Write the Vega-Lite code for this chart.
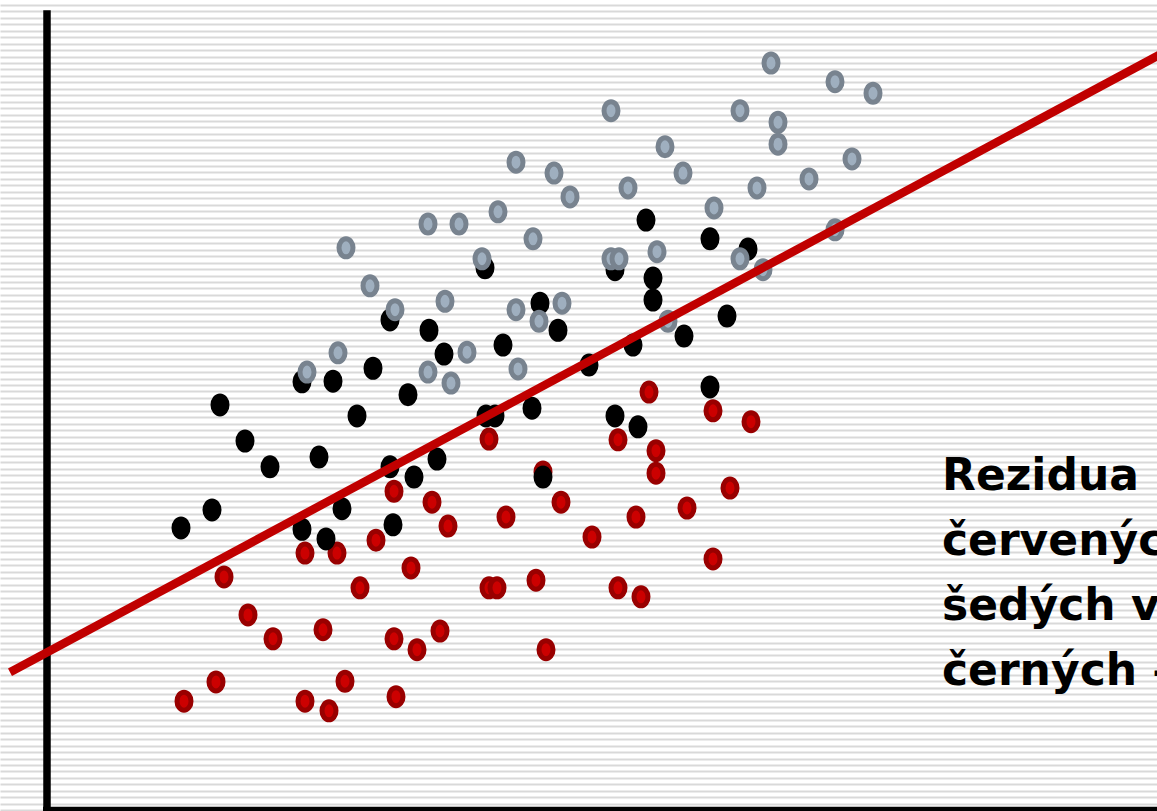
{
  "$schema": "https://vega.github.io/schema/vega-lite/v6.json",
  "width": 1157,
  "height": 811,
  "padding": 0,
  "autosize": {"type": "fit", "contains": "padding"},
  "background": "white",
  "config": {
    "view": {"stroke": null},
    "axisY": {"grid": true, "gridColor": "#d9d9d9", "gridWidth": 2, "tickCount": 125, "labels": false, "ticks": false, "domain": false, "titleOpacity": 0, "titlePadding": 0, "labelPadding": 0, "minExtent": 0, "maxExtent": 0}
  },
  "datasets": {
    "points": [
      {"x": 17.7, "y": 35.2, "g": "red"}, {"x": 20.1, "y": 29.3, "g": "red"}, {"x": 22.6, "y": 25.6, "g": "red"},
      {"x": 25.8, "y": 38.9, "g": "red"}, {"x": 29.0, "y": 38.9, "g": "red"}, {"x": 31.3, "y": 33.5, "g": "red"},
      {"x": 32.9, "y": 40.9, "g": "red"}, {"x": 34.7, "y": 48.5, "g": "red"}, {"x": 36.4, "y": 36.6, "g": "red"},
      {"x": 38.5, "y": 46.8, "g": "red"}, {"x": 40.1, "y": 43.1, "g": "red"}, {"x": 44.2, "y": 56.6, "g": "red"},
      {"x": 45.9, "y": 44.5, "g": "red"}, {"x": 44.2, "y": 33.5, "g": "red"}, {"x": 45.0, "y": 33.5, "g": "red"},
      {"x": 48.9, "y": 34.7, "g": "red"}, {"x": 49.6, "y": 51.5, "g": "red"}, {"x": 51.4, "y": 46.8, "g": "red"},
      {"x": 54.5, "y": 41.4, "g": "red"}, {"x": 57.1, "y": 56.5, "g": "red"}, {"x": 60.2, "y": 63.9, "g": "red"},
      {"x": 60.9, "y": 54.8, "g": "red"}, {"x": 60.9, "y": 51.3, "g": "red"}, {"x": 58.9, "y": 44.5, "g": "red"},
      {"x": 64.0, "y": 45.9, "g": "red"}, {"x": 66.6, "y": 61.0, "g": "red"}, {"x": 70.4, "y": 59.3, "g": "red"},
      {"x": 68.3, "y": 49.0, "g": "red"}, {"x": 66.6, "y": 38.0, "g": "red"}, {"x": 57.1, "y": 33.5, "g": "red"},
      {"x": 59.4, "y": 32.1, "g": "red"}, {"x": 27.6, "y": 27.0, "g": "red"}, {"x": 34.7, "y": 25.6, "g": "red"},
      {"x": 37.0, "y": 23.9, "g": "red"}, {"x": 39.3, "y": 26.8, "g": "red"}, {"x": 49.9, "y": 23.9, "g": "red"},
      {"x": 13.7, "y": 15.9, "g": "red"}, {"x": 16.9, "y": 18.9, "g": "red"}, {"x": 25.8, "y": 15.9, "g": "red"},
      {"x": 28.2, "y": 14.4, "g": "red"}, {"x": 29.8, "y": 19.0, "g": "red"}, {"x": 34.9, "y": 16.6, "g": "red"},
      {"x": 13.4, "y": 42.8, "g": "black"}, {"x": 16.5, "y": 45.6, "g": "black"}, {"x": 17.3, "y": 61.9, "g": "black"},
      {"x": 19.8, "y": 56.3, "g": "black"}, {"x": 22.3, "y": 52.3, "g": "black"}, {"x": 25.5, "y": 42.6, "g": "black"},
      {"x": 27.9, "y": 41.1, "g": "black"}, {"x": 25.5, "y": 65.5, "g": "black"}, {"x": 28.6, "y": 65.6, "g": "black"},
      {"x": 27.2, "y": 53.8, "g": "black"}, {"x": 29.5, "y": 45.8, "g": "black"}, {"x": 31.0, "y": 60.2, "g": "black"},
      {"x": 32.6, "y": 67.6, "g": "black"}, {"x": 34.3, "y": 75.1, "g": "black"}, {"x": 34.3, "y": 52.3, "g": "black"},
      {"x": 34.6, "y": 43.3, "g": "black"}, {"x": 36.1, "y": 63.5, "g": "black"}, {"x": 36.7, "y": 50.7, "g": "black"},
      {"x": 38.2, "y": 73.5, "g": "black"}, {"x": 39.0, "y": 53.5, "g": "black"}, {"x": 39.7, "y": 69.8, "g": "black"},
      {"x": 43.8, "y": 83.2, "g": "black"}, {"x": 45.6, "y": 71.2, "g": "black"}, {"x": 43.9, "y": 60.2, "g": "black"},
      {"x": 44.8, "y": 60.2, "g": "black"}, {"x": 48.5, "y": 61.4, "g": "black"}, {"x": 49.3, "y": 77.7, "g": "black"},
      {"x": 51.1, "y": 73.5, "g": "black"}, {"x": 49.6, "y": 50.7, "g": "black"}, {"x": 54.2, "y": 68.1, "g": "black"},
      {"x": 56.8, "y": 82.9, "g": "black"}, {"x": 56.8, "y": 60.2, "g": "black"}, {"x": 59.1, "y": 58.5, "g": "black"},
      {"x": 58.6, "y": 71.2, "g": "black"}, {"x": 59.9, "y": 90.6, "g": "black"}, {"x": 60.6, "y": 81.6, "g": "black"},
      {"x": 60.6, "y": 78.2, "g": "black"}, {"x": 63.7, "y": 72.6, "g": "black"}, {"x": 66.3, "y": 87.7, "g": "black"},
      {"x": 70.1, "y": 86.1, "g": "black"}, {"x": 68.0, "y": 75.7, "g": "black"}, {"x": 66.3, "y": 64.7, "g": "black"},
      {"x": 29.9, "y": 86.3, "g": "gray"}, {"x": 32.3, "y": 80.4, "g": "gray"}, {"x": 34.8, "y": 76.7, "g": "gray"},
      {"x": 29.1, "y": 70.0, "g": "gray"}, {"x": 26.0, "y": 67.0, "g": "gray"}, {"x": 38.1, "y": 90.0, "g": "gray"},
      {"x": 41.2, "y": 90.0, "g": "gray"}, {"x": 39.8, "y": 78.0, "g": "gray"}, {"x": 42.0, "y": 70.1, "g": "gray"},
      {"x": 38.1, "y": 67.0, "g": "gray"}, {"x": 40.4, "y": 65.3, "g": "gray"}, {"x": 45.1, "y": 91.9, "g": "gray"},
      {"x": 46.9, "y": 99.6, "g": "gray"}, {"x": 43.5, "y": 84.6, "g": "gray"}, {"x": 48.6, "y": 87.7, "g": "gray"},
      {"x": 46.9, "y": 76.7, "g": "gray"}, {"x": 47.1, "y": 67.5, "g": "gray"}, {"x": 49.2, "y": 74.9, "g": "gray"},
      {"x": 51.5, "y": 77.7, "g": "gray"}, {"x": 50.7, "y": 97.9, "g": "gray"}, {"x": 52.3, "y": 94.2, "g": "gray"},
      {"x": 56.4, "y": 107.6, "g": "gray"}, {"x": 58.1, "y": 95.6, "g": "gray"}, {"x": 56.4, "y": 84.6, "g": "gray"},
      {"x": 57.2, "y": 84.6, "g": "gray"}, {"x": 61.0, "y": 85.7, "g": "gray"}, {"x": 61.8, "y": 102.0, "g": "gray"},
      {"x": 63.6, "y": 97.9, "g": "gray"}, {"x": 62.1, "y": 74.9, "g": "gray"}, {"x": 66.7, "y": 92.5, "g": "gray"},
      {"x": 69.3, "y": 107.6, "g": "gray"}, {"x": 69.3, "y": 84.6, "g": "gray"}, {"x": 71.0, "y": 95.6, "g": "gray"},
      {"x": 73.1, "y": 105.8, "g": "gray"}, {"x": 73.1, "y": 102.4, "g": "gray"}, {"x": 72.4, "y": 115.0, "g": "gray"},
      {"x": 76.2, "y": 97.0, "g": "gray"}, {"x": 78.8, "y": 112.1, "g": "gray"}, {"x": 82.6, "y": 110.3, "g": "gray"},
      {"x": 80.5, "y": 100.1, "g": "gray"}, {"x": 78.8, "y": 89.1, "g": "gray"}, {"x": 71.6, "y": 82.9, "g": "gray"}
    ],
    "fit": [
      {"x": -3.7, "y": 20.4},
      {"x": 115.0, "y": 119.4}
    ],
    "one": [{"label": "Rezidua"}]
  },
  "layer": [
    {
      "data": {"name": "points"},
      "mark": {
        "type": "point",
        "filled": true,
        "shape": "M -0.778 0 A 0.778 1 0 1 0 0.778 0 A 0.778 1 0 1 0 -0.778 0 Z",
        "size": 324,
        "strokeWidth": 5,
        "opacity": 1
      },
      "encoding": {
        "x": {"field": "x", "type": "quantitative", "scale": {"domain": [-4.7, 111], "nice": false, "zero": false}, "axis": null},
        "y": {"field": "y", "type": "quantitative", "scale": {"domain": [-1.149, 124.78], "nice": false, "zero": false}, "title": null},
        "fill": {"field": "g", "type": "nominal", "scale": {"domain": ["red", "black", "gray"], "range": ["#cc0000", "#000000", "#9fafbf"]}, "legend": null},
        "stroke": {"field": "g", "type": "nominal", "scale": {"domain": ["red", "black", "gray"], "range": ["#990000", "#000000", "#78838f"]}, "legend": null}
      }
    },
    {
      "data": {"name": "one"},
      "mark": {"type": "rule", "color": "#000000", "strokeWidth": 7.5, "strokeCap": "butt", "clip": true},
      "encoding": {
        "x": {"datum": 0, "type": "quantitative", "axis": null},
        "y": {"datum": 123.2, "type": "quantitative", "title": null},
        "y2": {"datum": -1.5}
      }
    },
    {
      "data": {"name": "one"},
      "mark": {"type": "rule", "color": "#000000", "strokeWidth": 4.5, "strokeCap": "butt", "clip": true},
      "encoding": {
        "y": {"datum": -0.84, "type": "quantitative", "title": null},
        "x": {"datum": -0.4, "type": "quantitative", "axis": null},
        "x2": {"datum": 115}
      }
    },
    {
      "data": {"name": "fit"},
      "mark": {"type": "line", "color": "#c00000", "strokeWidth": 8.5, "strokeCap": "butt", "clip": true},
      "encoding": {
        "x": {"field": "x", "type": "quantitative", "axis": null},
        "y": {"field": "y", "type": "quantitative", "title": null}
      }
    },
    {
      "data": {"name": "one"},
      "mark": {
        "type": "text",
        "align": "left",
        "baseline": "alphabetic",
        "font": "DejaVu Sans",
        "fontWeight": "bold",
        "fontSize": 44,
        "lineHeight": 65,
        "color": "#000000",
        "clip": true
      },
      "encoding": {
        "x": {"datum": 89.5, "type": "quantitative", "axis": null},
        "y": {"datum": 48.7, "type": "quantitative", "title": null},
        "text": {"value": ["Rezidua", "červených vždy záporná", "šedých vždy kladná", "černých – blízko nuly"]}
      }
    }
  ]
}
